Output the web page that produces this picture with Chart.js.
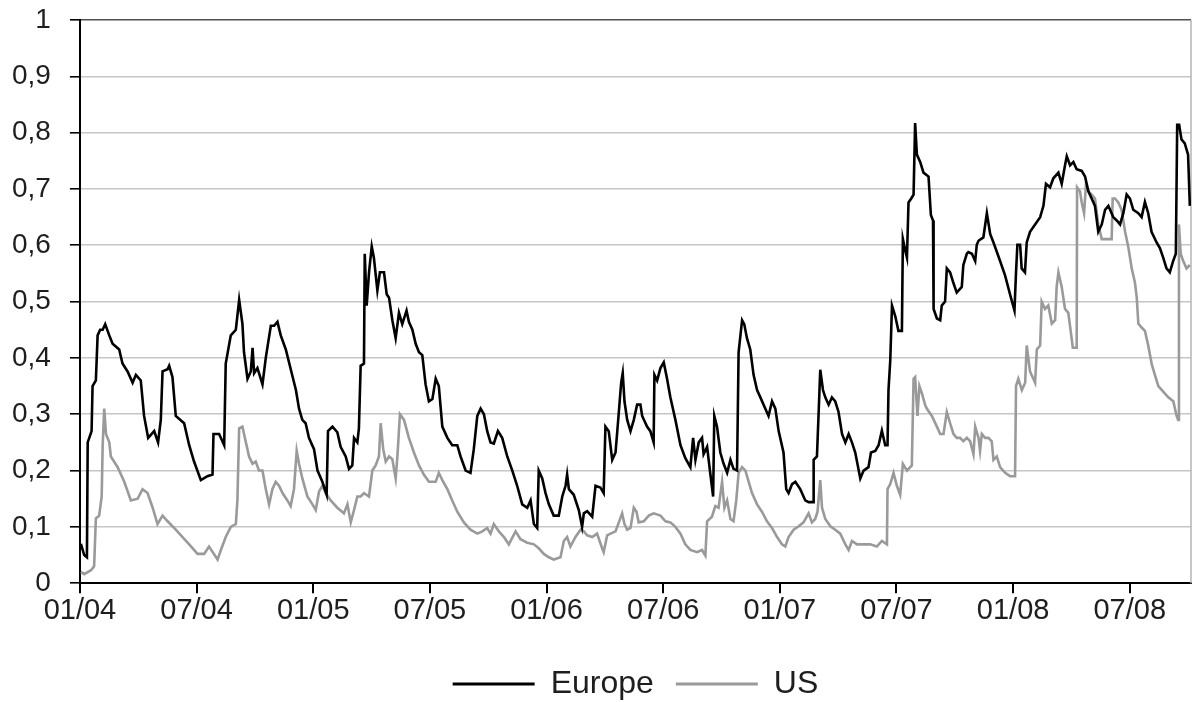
<!DOCTYPE html>
<html>
<head>
<meta charset="utf-8">
<title>Europe / US</title>
<script src="https://cdn.jsdelivr.net/npm/chart.js@4/dist/chart.umd.min.js"></script>
<style>
    html, body { margin: 0; padding: 0; background: #fff; }
    #wrap { width: 1193px; height: 702px; }
</style>
</head>
<body>
<div id="wrap"><canvas id="corrChart" width="1193" height="702"></canvas></div>
<script>
// x = months since 01/2004
const tickMonths = [0, 6, 12, 18, 24, 30, 36, 42, 48, 54];
const tickLabels = ['01/04', '07/04', '01/05', '07/05', '01/06', '07/06', '01/07', '07/07', '01/08', '07/08'];

const europeMonths = [0.05, 0.22, 0.36, 0.40, 0.60, 0.65, 0.82, 0.91, 1.04, 1.17, 1.30, 1.51, 1.68, 2.02, 2.19, 2.45, 2.71, 2.88, 3.13, 3.30, 3.51, 3.82, 4.02, 4.16, 4.25, 4.51, 4.59, 4.76, 4.93, 5.36, 5.62, 5.87, 6.22, 6.56, 6.82, 6.87, 7.16, 7.42, 7.50, 7.76, 8.02, 8.19, 8.36, 8.44, 8.62, 8.79, 8.88, 8.96, 9.13, 9.39, 9.56, 9.65, 9.82, 9.99, 10.16, 10.33, 10.59, 10.85, 11.11, 11.27, 11.44, 11.61, 11.78, 12.04, 12.22, 12.47, 12.69, 12.76, 12.99, 13.24, 13.41, 13.67, 13.84, 14.01, 14.10, 14.27, 14.35, 14.44, 14.61, 14.65, 14.75, 14.87, 15.01, 15.12, 15.30, 15.43, 15.64, 15.78, 15.90, 16.07, 16.24, 16.41, 16.58, 16.80, 16.92, 17.10, 17.27, 17.44, 17.61, 17.78, 17.95, 18.13, 18.30, 18.46, 18.64, 18.90, 19.15, 19.41, 19.58, 19.84, 20.09, 20.26, 20.44, 20.61, 20.78, 20.95, 21.12, 21.29, 21.50, 21.72, 21.98, 22.24, 22.49, 22.75, 23.01, 23.18, 23.35, 23.52, 23.60, 23.78, 23.95, 24.12, 24.37, 24.63, 24.81, 24.98, 25.06, 25.15, 25.40, 25.66, 25.83, 25.92, 26.09, 26.35, 26.52, 26.77, 26.94, 27.03, 27.20, 27.38, 27.55, 27.72, 27.84, 27.92, 28.01, 28.15, 28.32, 28.49, 28.66, 28.83, 28.92, 29.17, 29.34, 29.51, 29.55, 29.69, 29.86, 30.03, 30.20, 30.37, 30.63, 30.89, 31.14, 31.40, 31.54, 31.66, 31.83, 32.00, 32.08, 32.26, 32.43, 32.57, 32.63, 32.77, 32.94, 33.11, 33.29, 33.46, 33.62, 33.80, 33.88, 34.06, 34.17, 34.31, 34.48, 34.65, 34.83, 35.00, 35.25, 35.42, 35.60, 35.77, 35.94, 36.19, 36.33, 36.45, 36.63, 36.80, 37.05, 37.31, 37.48, 37.71, 37.74, 37.91, 37.99, 38.08, 38.22, 38.34, 38.51, 38.68, 38.85, 39.02, 39.20, 39.37, 39.54, 39.71, 39.88, 40.14, 40.31, 40.56, 40.69, 40.91, 41.08, 41.25, 41.42, 41.54, 41.59, 41.68, 41.77, 41.94, 42.10, 42.28, 42.33, 42.45, 42.54, 42.62, 42.76, 42.88, 42.96, 43.05, 43.22, 43.39, 43.65, 43.77, 43.88, 43.91, 44.08, 44.25, 44.33, 44.50, 44.59, 44.76, 44.93, 45.10, 45.36, 45.44, 45.62, 45.70, 45.88, 46.05, 46.13, 46.22, 46.47, 46.65, 46.82, 46.99, 47.33, 47.59, 47.84, 48.07, 48.15, 48.22, 48.36, 48.44, 48.61, 48.70, 48.87, 49.13, 49.39, 49.56, 49.69, 49.90, 50.07, 50.33, 50.50, 50.67, 50.76, 50.93, 51.10, 51.27, 51.53, 51.70, 51.87, 52.04, 52.21, 52.38, 52.56, 52.73, 52.90, 53.15, 53.33, 53.50, 53.67, 53.84, 54.01, 54.18, 54.44, 54.61, 54.78, 54.95, 55.12, 55.38, 55.55, 55.72, 55.89, 56.06, 56.23, 56.37, 56.44, 56.54, 56.66, 56.83, 57.00, 57.09];
const europeValues = [0.07, 0.05, 0.046, 0.25, 0.27, 0.35, 0.36, 0.44, 0.45, 0.45, 0.46, 0.44, 0.425, 0.415, 0.39, 0.376, 0.356, 0.37, 0.36, 0.297, 0.258, 0.27, 0.25, 0.29, 0.376, 0.38, 0.386, 0.366, 0.297, 0.284, 0.245, 0.216, 0.183, 0.19, 0.193, 0.265, 0.265, 0.245, 0.39, 0.44, 0.45, 0.503, 0.46, 0.41, 0.363, 0.376, 0.418, 0.373, 0.382, 0.353, 0.40, 0.42, 0.457, 0.457, 0.464, 0.44, 0.415, 0.379, 0.343, 0.31, 0.29, 0.284, 0.258, 0.238, 0.2, 0.18, 0.157, 0.27, 0.278, 0.268, 0.242, 0.225, 0.203, 0.209, 0.258, 0.25, 0.275, 0.386, 0.39, 0.585, 0.493, 0.552, 0.598, 0.578, 0.52, 0.552, 0.552, 0.513, 0.507, 0.467, 0.435, 0.48, 0.46, 0.484, 0.464, 0.45, 0.425, 0.41, 0.405, 0.353, 0.323, 0.327, 0.363, 0.35, 0.278, 0.258, 0.245, 0.245, 0.225, 0.2, 0.196, 0.238, 0.297, 0.31, 0.30, 0.27, 0.25, 0.248, 0.27, 0.258, 0.225, 0.2, 0.173, 0.14, 0.134, 0.147, 0.105, 0.098, 0.2, 0.186, 0.16, 0.14, 0.12, 0.12, 0.154, 0.173, 0.193, 0.167, 0.157, 0.13, 0.10, 0.124, 0.128, 0.118, 0.173, 0.17, 0.16, 0.278, 0.27, 0.219, 0.232, 0.304, 0.356, 0.373, 0.323, 0.29, 0.27, 0.29, 0.317, 0.317, 0.297, 0.278, 0.27, 0.25, 0.37, 0.36, 0.382, 0.392, 0.363, 0.33, 0.29, 0.245, 0.222, 0.206, 0.258, 0.219, 0.25, 0.258, 0.229, 0.242, 0.193, 0.154, 0.297, 0.278, 0.232, 0.212, 0.196, 0.219, 0.203, 0.2, 0.41, 0.467, 0.46, 0.435, 0.415, 0.37, 0.343, 0.33, 0.31, 0.297, 0.323, 0.31, 0.27, 0.232, 0.167, 0.16, 0.176, 0.18, 0.167, 0.147, 0.144, 0.144, 0.219, 0.225, 0.297, 0.379, 0.343, 0.33, 0.317, 0.33, 0.323, 0.304, 0.265, 0.25, 0.265, 0.25, 0.232, 0.186, 0.2, 0.206, 0.232, 0.235, 0.245, 0.271, 0.245, 0.245, 0.343, 0.395, 0.493, 0.474, 0.448, 0.448, 0.611, 0.591, 0.578, 0.676, 0.683, 0.69, 0.817, 0.761, 0.748, 0.729, 0.722, 0.654, 0.644, 0.487, 0.47, 0.467, 0.493, 0.50, 0.559, 0.552, 0.533, 0.516, 0.526, 0.565, 0.585, 0.588, 0.585, 0.572, 0.601, 0.608, 0.614, 0.657, 0.62, 0.605, 0.572, 0.546, 0.513, 0.484, 0.552, 0.601, 0.601, 0.559, 0.552, 0.605, 0.624, 0.637, 0.65, 0.67, 0.709, 0.703, 0.719, 0.729, 0.709, 0.742, 0.758, 0.742, 0.748, 0.735, 0.732, 0.722, 0.696, 0.683, 0.67, 0.624, 0.637, 0.663, 0.67, 0.65, 0.644, 0.637, 0.657, 0.69, 0.683, 0.663, 0.657, 0.65, 0.677, 0.657, 0.624, 0.605, 0.595, 0.578, 0.559, 0.552, 0.572, 0.585, 0.814, 0.814, 0.788, 0.781, 0.761, 0.67];

const usMonths = [0.05, 0.22, 0.57, 0.73, 0.82, 0.99, 1.12, 1.17, 1.25, 1.34, 1.51, 1.59, 1.94, 2.28, 2.62, 2.97, 3.22, 3.48, 3.74, 3.99, 4.25, 4.51, 4.93, 5.28, 5.62, 6.05, 6.39, 6.64, 7.08, 7.25, 7.50, 7.76, 8.02, 8.10, 8.19, 8.36, 8.44, 8.70, 8.88, 9.04, 9.21, 9.39, 9.56, 9.73, 9.90, 10.07, 10.24, 10.42, 10.67, 10.84, 11.01, 11.15, 11.27, 11.44, 11.70, 11.96, 12.13, 12.30, 12.47, 12.64, 12.90, 13.24, 13.58, 13.76, 13.93, 14.10, 14.27, 14.44, 14.61, 14.87, 15.04, 15.21, 15.38, 15.47, 15.60, 15.73, 15.90, 16.07, 16.24, 16.33, 16.46, 16.67, 16.92, 17.18, 17.44, 17.69, 17.95, 18.30, 18.46, 18.64, 18.90, 19.15, 19.41, 19.75, 20.09, 20.44, 20.70, 20.95, 21.12, 21.29, 21.55, 21.81, 22.06, 22.41, 22.66, 23.01, 23.35, 23.60, 23.86, 24.12, 24.37, 24.72, 24.89, 25.06, 25.23, 25.49, 25.75, 25.92, 26.09, 26.35, 26.60, 26.86, 26.94, 27.12, 27.29, 27.55, 27.72, 27.89, 28.01, 28.15, 28.32, 28.49, 28.63, 28.74, 29.00, 29.26, 29.51, 29.86, 30.12, 30.37, 30.63, 30.89, 31.14, 31.40, 31.74, 32.00, 32.17, 32.26, 32.51, 32.68, 32.85, 33.03, 33.15, 33.29, 33.46, 33.62, 33.76, 33.88, 34.06, 34.23, 34.40, 34.57, 34.83, 35.08, 35.34, 35.60, 35.86, 36.11, 36.28, 36.45, 36.71, 36.97, 37.22, 37.48, 37.65, 37.82, 37.94, 38.08, 38.17, 38.34, 38.60, 38.85, 39.11, 39.37, 39.54, 39.71, 39.97, 40.31, 40.65, 40.99, 41.25, 41.51, 41.54, 41.68, 41.85, 42.02, 42.19, 42.33, 42.54, 42.79, 42.88, 42.96, 43.08, 43.18, 43.31, 43.47, 43.56, 43.82, 44.08, 44.25, 44.42, 44.59, 44.76, 44.93, 45.10, 45.27, 45.44, 45.62, 45.79, 45.96, 46.05, 46.22, 46.30, 46.39, 46.56, 46.73, 46.90, 46.99, 47.16, 47.33, 47.59, 47.84, 48.10, 48.15, 48.27, 48.45, 48.62, 48.70, 48.87, 49.04, 49.13, 49.22, 49.39, 49.47, 49.64, 49.81, 49.99, 50.16, 50.24, 50.33, 50.50, 50.67, 50.84, 50.96, 51.07, 51.27, 51.29, 51.44, 51.53, 51.65, 51.75, 51.87, 52.04, 52.21, 52.38, 52.56, 52.81, 53.07, 53.12, 53.24, 53.41, 53.58, 53.76, 53.92, 54.10, 54.27, 54.36, 54.44, 54.61, 54.78, 54.95, 55.13, 55.30, 55.47, 55.72, 55.98, 56.24, 56.41, 56.49, 56.53, 56.62, 56.75, 56.92, 57.09];
const usValues = [0.02, 0.016, 0.023, 0.03, 0.115, 0.12, 0.154, 0.245, 0.31, 0.265, 0.25, 0.225, 0.206, 0.18, 0.147, 0.15, 0.167, 0.16, 0.134, 0.105, 0.12, 0.11, 0.095, 0.082, 0.069, 0.052, 0.052, 0.065, 0.042, 0.059, 0.082, 0.10, 0.105, 0.147, 0.275, 0.278, 0.265, 0.225, 0.212, 0.216, 0.2, 0.2, 0.167, 0.14, 0.167, 0.18, 0.173, 0.16, 0.147, 0.137, 0.167, 0.235, 0.212, 0.186, 0.154, 0.14, 0.13, 0.163, 0.173, 0.16, 0.147, 0.134, 0.124, 0.14, 0.108, 0.13, 0.154, 0.154, 0.16, 0.154, 0.2, 0.209, 0.225, 0.284, 0.238, 0.216, 0.225, 0.22, 0.186, 0.225, 0.30, 0.29, 0.258, 0.232, 0.209, 0.193, 0.18, 0.18, 0.196, 0.183, 0.167, 0.147, 0.127, 0.108, 0.095, 0.088, 0.092, 0.098, 0.088, 0.105, 0.092, 0.082, 0.069, 0.092, 0.078, 0.072, 0.069, 0.062, 0.052, 0.046, 0.042, 0.046, 0.075, 0.082, 0.065, 0.082, 0.095, 0.092, 0.085, 0.082, 0.088, 0.062, 0.055, 0.085, 0.088, 0.092, 0.108, 0.124, 0.105, 0.095, 0.098, 0.134, 0.127, 0.108, 0.11, 0.12, 0.124, 0.12, 0.11, 0.108, 0.10, 0.088, 0.069, 0.059, 0.055, 0.059, 0.049, 0.11, 0.118, 0.137, 0.134, 0.18, 0.134, 0.147, 0.114, 0.11, 0.147, 0.196, 0.206, 0.2, 0.18, 0.16, 0.14, 0.127, 0.11, 0.098, 0.082, 0.069, 0.065, 0.082, 0.095, 0.101, 0.108, 0.124, 0.108, 0.114, 0.127, 0.183, 0.134, 0.114, 0.101, 0.095, 0.088, 0.069, 0.059, 0.075, 0.069, 0.069, 0.069, 0.065, 0.075, 0.069, 0.167, 0.176, 0.196, 0.173, 0.157, 0.212, 0.2, 0.209, 0.363, 0.366, 0.297, 0.35, 0.337, 0.317, 0.31, 0.297, 0.278, 0.265, 0.265, 0.304, 0.284, 0.265, 0.258, 0.258, 0.252, 0.258, 0.252, 0.229, 0.278, 0.258, 0.235, 0.265, 0.258, 0.258, 0.252, 0.219, 0.225, 0.206, 0.196, 0.19, 0.19, 0.35, 0.363, 0.343, 0.356, 0.422, 0.376, 0.363, 0.356, 0.415, 0.422, 0.50, 0.487, 0.493, 0.461, 0.467, 0.526, 0.552, 0.526, 0.487, 0.48, 0.448, 0.418, 0.418, 0.703, 0.696, 0.676, 0.657, 0.709, 0.696, 0.69, 0.683, 0.637, 0.611, 0.611, 0.611, 0.683, 0.683, 0.676, 0.663, 0.624, 0.598, 0.559, 0.533, 0.507, 0.461, 0.454, 0.448, 0.422, 0.389, 0.369, 0.35, 0.34, 0.33, 0.323, 0.297, 0.29, 0.637, 0.585, 0.572, 0.559, 0.565];

document.addEventListener('DOMContentLoaded', function() {
    const fontFamily = '"Liberation Sans", Arial, sans-serif';
    const textColor = '#1e1e1e';

    function toPoints(xs, ys) {
        return xs.map((x, i) => ({ x: x, y: ys[i] }));
    }

    // граница справа + легенда по центру области построения, как в Excel
    const plotFrame = {
        id: 'plotFrame',
        afterLayout(chart) {
            const lg = chart.legend;
            const shift = (chart.chartArea.left + chart.chartArea.right) / 2 - (lg.left + lg.right) / 2;
            lg.left += shift;
            lg.right += shift;
        },
        beforeDatasetsDraw(chart) {
            const { ctx, chartArea } = chart;
            ctx.save();
            ctx.strokeStyle = '#b4b4b4';
            ctx.lineWidth = 1.5;
            ctx.beginPath();
            ctx.moveTo(chartArea.right, chartArea.top);
            ctx.lineTo(chartArea.right, chartArea.bottom);
            ctx.stroke();
            ctx.restore();
        }
    };

    const ctx = document.getElementById('corrChart').getContext('2d');
    new Chart(ctx, {
        type: 'line',
        data: {
            datasets: [
                {
                    label: 'Europe',
                    data: toPoints(europeMonths, europeValues),
                    borderColor: '#000000',
                    backgroundColor: '#000000',
                    borderWidth: 2.6,
                    pointRadius: 0,
                    tension: 0,
                    fill: false
                },
                {
                    label: 'US',
                    data: toPoints(usMonths, usValues),
                    borderColor: '#9a9a9a',
                    backgroundColor: '#9a9a9a',
                    borderWidth: 2.6,
                    pointRadius: 0,
                    tension: 0,
                    fill: false
                }
            ]
        },
        options: {
            responsive: false,
            animation: false,
            layout: {
                padding: { left: 0, right: 2, top: 20, bottom: -8 }
            },
            plugins: {
                tooltip: { enabled: false },
                legend: {
                    position: 'bottom',
                    labels: {
                        color: textColor,
                        font: { family: fontFamily, size: 32 },
                        boxWidth: 82,
                        boxHeight: 3,
                        padding: 22,
                        generateLabels(chart) {
                            const items = Chart.defaults.plugins.legend.labels.generateLabels(chart);
                            items.forEach(item => { item.lineWidth = 0; });
                            return items;
                        }
                    }
                }
            },
            scales: {
                x: {
                    type: 'linear',
                    min: 0,
                    max: 57.15,
                    afterBuildTicks(axis) {
                        axis.ticks = tickMonths.map(v => ({ value: v }));
                    },
                    afterFit(axis) {
                        axis.height += 18;
                    },
                    ticks: {
                        autoSkip: false,
                        maxRotation: 0,
                        color: textColor,
                        padding: 0,
                        font: { family: fontFamily, size: 29 },
                        callback: function(value) {
                            return tickLabels[tickMonths.indexOf(value)];
                        }
                    },
                    grid: {
                        drawOnChartArea: false,
                        tickLength: 10,
                        tickColor: '#000000',
                        lineWidth: 2
                    },
                    border: { color: '#000000', width: 2 }
                },
                y: {
                    min: 0,
                    max: 1,
                    afterFit(axis) {
                        axis.paddingTop = 0;
                        axis.width -= 7;
                    },
                    ticks: {
                        stepSize: 0.1,
                        color: textColor,
                        padding: 19,
                        font: { family: fontFamily, size: 28 },
                        callback: function(value) {
                            return (Math.round(value * 10) / 10).toString().replace('.', ',');
                        }
                    },
                    grid: {
                        color: c => (c.tick && c.tick.value === 1 ? '#505050' : '#c6c6c6'),
                        lineWidth: 1.6,
                        tickLength: 10,
                        tickColor: '#000000'
                    },
                    border: { color: '#000000', width: 2 }
                }
            }
        },
        plugins: [plotFrame]
    });
});
</script>
</body>
</html>
